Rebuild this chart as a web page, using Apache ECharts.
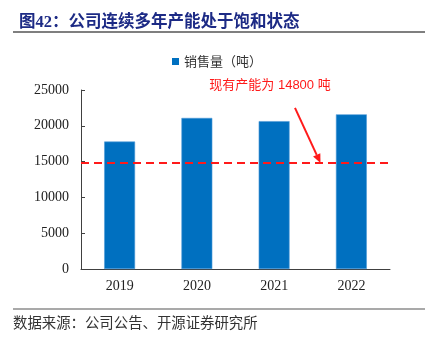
<!DOCTYPE html>
<html>
<head>
<meta charset="utf-8">
<script src="https://cdn.jsdelivr.net/npm/echarts@6/dist/echarts.min.js"></script>
<style>
  html, body { margin: 0; padding: 0; background: #fff; }
  #chart { width: 440px; height: 339px; }
</style>
</head>
<body>
<div id="chart"></div>
<script>
// Annual sales volume (tonnes) against current production capacity
const years = ['2019', '2020', '2021', '2022'];
const salesVolume = [17800, 21100, 20650, 21600];
const capacity = 14800;
const yTicks = [0, 5000, 10000, 15000, 20000, 25000];

const titleText = '图42：公司连续多年产能处于饱和状态';
const seriesName = '销售量（吨）';
const capacityLabel = '现有产能为 14800 吨';
const sourceText = '数据来源：公司公告、开源证券研究所';

const serif = '"Liberation Serif", "Noto Sans CJK SC", serif';
const cjk = '"Noto Sans CJK SC", sans-serif';
const axisColor = '#404040';

const chart = echarts.init(document.getElementById('chart'), null, { renderer: 'canvas' });

const option = {
  animation: false,
  backgroundColor: '#fff',
  title: {
    text: titleText,
    left: 14,
    top: 9,
    textStyle: { fontFamily: serif, fontSize: 16.5, fontWeight: 'bold', color: '#1c2a85' }
  },
  legend: {
    data: [seriesName],
    top: 50,
    left: 167,
    icon: 'rect',
    itemWidth: 7,
    itemHeight: 7,
    itemGap: 5,
    itemStyle: { borderWidth: 0 },
    textStyle: { fontFamily: cjk, fontSize: 13, color: '#333' }
  },
  grid: { left: 81, right: 50, top: 90, bottom: 70, containLabel: false },
  xAxis: {
    type: 'category',
    data: years,
    axisLine: { lineStyle: { color: axisColor, width: 1 } },
    axisTick: { inside: true, length: 4, lineStyle: { color: axisColor } },
    axisLabel: { fontFamily: serif, fontSize: 14, color: '#222', margin: 10 }
  },
  yAxis: {
    type: 'value',
    min: yTicks[0],
    max: yTicks[yTicks.length - 1],
    interval: yTicks[1] - yTicks[0],
    splitLine: { show: false },
    axisLine: { show: true, lineStyle: { color: axisColor, width: 1 } },
    axisTick: { show: true, inside: true, length: 4, lineStyle: { color: axisColor } },
    axisLabel: { fontFamily: serif, fontSize: 14, color: '#222', margin: 12, formatter: v => String(v) }
  },
  series: [{
    name: seriesName,
    type: 'bar',
    data: salesVolume,
    barWidth: '40%',
    itemStyle: { color: '#0070C0', borderColor: '#4f9ad6', borderWidth: 0.6 },
    markLine: {
      silent: true,
      symbol: 'none',
      label: { show: false },
      lineStyle: { color: '#ff1a1a', type: [8, 5], width: 2 },
      data: [{ yAxis: capacity }]
    }
  }]
};

chart.setOption(option);

// Annotation: label plus arrow pointing at the capacity line between 2021 and 2022
const p2021 = chart.convertToPixel({ xAxisIndex: 0 }, years[2]);
const p2022 = chart.convertToPixel({ xAxisIndex: 0 }, years[3]);
const tipX = p2021 + (p2022 - p2021) * 0.6;
const tipY = chart.convertToPixel({ yAxisIndex: 0 }, capacity);
const startX = p2021 + (p2022 - p2021) * 0.27;
const startY = chart.convertToPixel({ yAxisIndex: 0 }, 22500);

const dx = tipX - startX, dy = tipY - startY;
const len = Math.sqrt(dx * dx + dy * dy);
const ux = dx / len, uy = dy / len;
const headLen = 9, headHalf = 4;
const baseX = tipX - ux * headLen, baseY = tipY - uy * headLen;

chart.setOption({
  graphic: [
    { type: 'line', shape: { x1: 13, y1: 32, x2: 425, y2: 32 }, style: { stroke: '#555', lineWidth: 1.5 } },
    { type: 'line', shape: { x1: 13, y1: 309, x2: 425, y2: 309 }, style: { stroke: '#555', lineWidth: 1.2 } },
    {
      type: 'text', left: 13, top: 315,
      style: { text: sourceText, font: '14.4px "Noto Sans CJK SC", sans-serif', fill: '#333' }
    },
    {
      type: 'text', x: 270, y: 85,
      style: {
        text: capacityLabel, font: '13px "Liberation Sans", "Noto Sans CJK SC", sans-serif',
        fill: '#ff1a1a', align: 'center', verticalAlign: 'middle'
      }
    },
    {
      type: 'line',
      shape: { x1: startX, y1: startY, x2: baseX, y2: baseY },
      style: { stroke: '#ff1a1a', lineWidth: 2 }
    },
    {
      type: 'polygon',
      shape: {
        points: [
          [tipX, tipY],
          [baseX - uy * headHalf, baseY + ux * headHalf],
          [baseX + uy * headHalf, baseY - ux * headHalf]
        ]
      },
      style: { fill: '#ff1a1a' }
    }
  ]
});
</script>
</body>
</html>
